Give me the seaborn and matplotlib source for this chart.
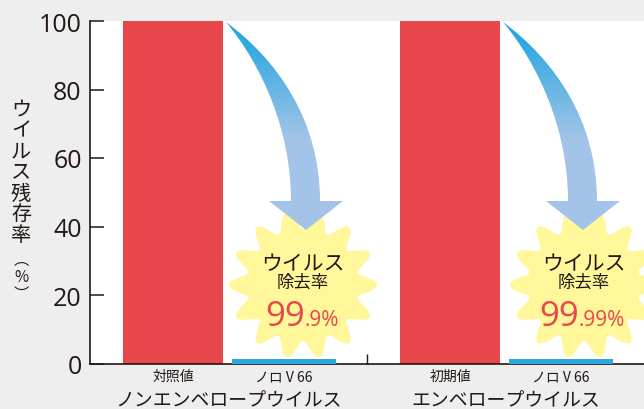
import numpy as np
import pandas as pd
import seaborn as sns
import matplotlib.pyplot as plt
from matplotlib.colors import LinearSegmentedColormap
from matplotlib.patches import PathPatch
from matplotlib.path import Path

# values
groups = ["ノンエンベロープウイルス", "エンベロープウイルス"]
control_labels = ["対照値", "初期値"]
treated_label = "ノロ V 66"
control_values = [100, 100]
treated_values = [1.3, 1.3]
yticks = [0, 20, 40, 60, 80, 100]
removal_main = ["99", "99"]
removal_rest = [".9%", ".99%"]

INK = "#231815"
RED = "#e8474c"
BLUE = "#29a8e0"
PALE_BLUE = "#a3c4e8"
STAR = "#fff799"
JP = ["Noto Sans CJK JP", "DejaVu Sans"]

sns.set_style("white")
plt.rcParams["font.family"] = JP

W, H = 644, 410
fig, axes = plt.subplots(1, 2, sharey=True, figsize=(W / 100, H / 100), dpi=100)
fig.patch.set_facecolor("#eeeeee")
fig.subplots_adjust(left=90 / W, right=1, bottom=1 - 364.5 / H, top=1 - 22 / H, wspace=0)

for ax, group, ctrl, ctrl_v, treat_v in zip(axes, groups, control_labels, control_values, treated_values):
    df = pd.DataFrame({"sample": [ctrl, treated_label], "rate": [ctrl_v, treat_v]})
    order = list(df["sample"])
    sns.barplot(data=df[df["sample"] == ctrl], x="sample", y="rate", order=order,
                color=RED, saturation=1, width=0.905, ax=ax, zorder=2, linewidth=0, edgecolor="none")
    sns.barplot(data=df[df["sample"] == treated_label], x="sample", y="rate", order=order,
                color=BLUE, saturation=1, width=0.94, ax=ax, zorder=4, linewidth=0, edgecolor="none")
    ax.set_facecolor("white")
    ax.set_xlim(-0.748, 1.748)
    ax.set_ylim(0, 100)
    ax.set_xlabel(group, fontsize=13.6, color=INK, labelpad=4.5)
    ax.set_ylabel("")
    ax.tick_params(axis="x", length=0, pad=4, labelsize=10, labelcolor=INK)
    for side in ["top", "right", "left"]:
        ax.spines[side].set_visible(False)
    ax.spines["bottom"].set_color(INK)
    ax.spines["bottom"].set_linewidth(1.2)
    ax.spines["bottom"].set_zorder(3)

ax = axes[0]
ax.spines["left"].set_visible(True)
ax.spines["left"].set_color(INK)
ax.spines["left"].set_linewidth(1.2)
ax.set_yticks(yticks)
ax.tick_params(axis="y", direction="in", length=10, width=1.1, color=INK, left=True, pad=6)
for t in ax.get_yticklabels():
    t.set_fontfamily("Open Sans")
    t.set_fontsize(18)
    t.set_color(INK)
axes[1].tick_params(axis="y", left=False)
axes[1].set_xticks([-0.748], minor=True)
axes[1].tick_params(axis="x", which="minor", direction="in", length=7, width=1, color=INK, bottom=True)

# y label, stacked one character per line
fig.text(21 / W, 1 - 173 / H, "\n".join("ウイルス残存率"), fontsize=14.5, color=INK,
         ha="center", va="center", linespacing=1.0)
fig.text(21 / W, 1 - 277 / H, "︵\n%\n︶", fontsize=11, color=INK,
         ha="center", va="center", linespacing=1.0)

# overlay in pixel coordinates for the arrows and bursts
over = fig.add_axes([0, 0, 1, 1], zorder=5)
over.set_xlim(0, W)
over.set_ylim(H, 0)
over.axis("off")
over.patch.set_alpha(0)

cmap = LinearSegmentedColormap.from_list("arrow", [BLUE, PALE_BLUE], N=256)
ramp = np.clip((np.linspace(0, 1, 256) - 0.08) / 0.48, 0, 1).reshape(-1, 1)


def burst(cx, cy):
    th = np.linspace(0, 2 * np.pi, 720)
    r = 65 + 9 * np.cos(14 * th)
    over.fill(cx + r * np.cos(th), cy + r * np.sin(th), color=STAR, lw=0, zorder=1)


def arrow(x0):
    verts = [(0, 23), (50, 60), (94, 120), (94, 202), (117, 202), (80, 231), (43, 202), (65, 202),
             (65, 130), (35, 65), (0, 23), (0, 23)]
    codes = [Path.MOVETO, Path.CURVE4, Path.CURVE4, Path.CURVE4, Path.LINETO, Path.LINETO, Path.LINETO,
             Path.LINETO, Path.CURVE4, Path.CURVE4, Path.CURVE4, Path.CLOSEPOLY]
    verts = [(x0 + x, y) for x, y in verts]
    patch = PathPatch(Path(verts, codes), fc="none", ec="none", transform=over.transData)
    over.add_patch(patch)
    im = over.imshow(ramp, cmap=cmap, vmin=0, vmax=1, extent=(x0 - 2, x0 + 120, 232, 22), aspect="auto", zorder=2)
    im.set_clip_path(patch)


for cx, main, rest, split in zip([303, 584], removal_main, removal_rest, [305, 579]):
    burst(cx, 286)
    over.text(cx, 264, "ウイルス", fontsize=15, color=INK, ha="center", va="center", zorder=3)
    over.text(cx, 283, "除去率", fontsize=12.5, color=INK, ha="center", va="center", zorder=3)
    over.text(split, 326.5, main, fontsize=25, color=RED, ha="right", va="baseline", family="Open Sans", zorder=3)
    over.text(split, 326.5, rest, fontsize=15, color=RED, ha="left", va="baseline", family="Open Sans", zorder=3)

arrow(226)
arrow(503)
over.set_xlim(0, W)
over.set_ylim(H, 0)

fig.savefig("out.png", dpi=100, facecolor=fig.get_facecolor())
